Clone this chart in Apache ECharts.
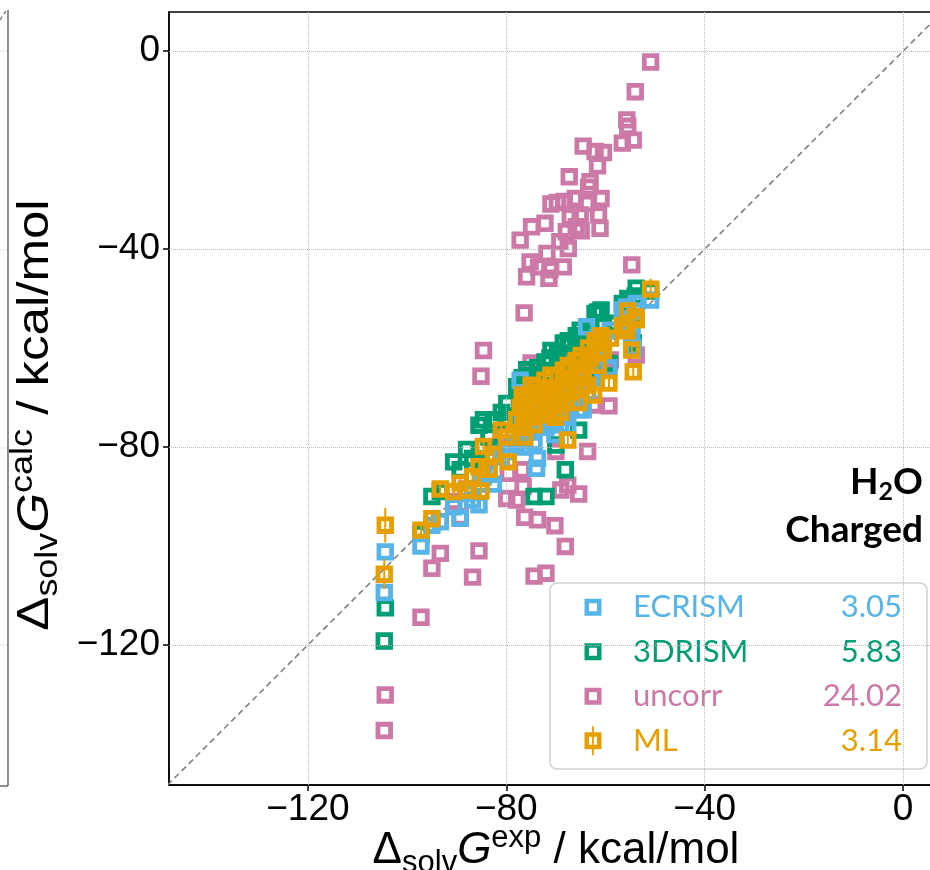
<!DOCTYPE html>
<html><head><meta charset="utf-8">
<script src="https://cdn.jsdelivr.net/npm/echarts@6/dist/echarts.min.js"></script>
<style>html,body{margin:0;padding:0;background:#fff}#c{width:930px;height:870px}</style>
</head><body><div id="c"></div>
<script>
// experimental solvation free energies (shared x for all methods)
const expG = [-104.6,-104.4,-97.2,-95.0,-93.3,-90.6,-89.3,-88.0,-86.8,-85.5,-85.1,-84.6,-83.5,-82.6,-81.0,-79.9,-79.6,-77.9,-77.2,-76.8,-76.6,-76.4,-76.3,-75.9,-75.2,-75.0,-74.9,-74.4,-73.9,-73.7,-73.5,-72.2,-72.0,-71.8,-71.4,-71.2,-71.0,-70.2,-70.0,-69.7,-69.2,-69.0,-68.5,-68.3,-68.1,-67.9,-67.6,-67.5,-67.3,-67.1,-66.1,-65.9,-65.4,-65.1,-64.9,-64.5,-63.8,-63.6,-63.4,-63.1,-62.4,-62.1,-61.6,-61.4,-61.1,-60.9,-60.4,-59.3,-59.0,-56.6,-55.7,-55.5,-54.7,-54.4,-54.0,-53.8,-50.9];
const mlCalc = [-105.7,-95.8,-96.8,-94.5,-88.5,-89.0,-87.3,-88.7,-86.0,-84.0,-88.9,-79.9,-84.5,-81.5,-76.6,-78.0,-83.0,-74.5,-72.0,-69.5,-76.0,-73.0,-78.0,-70.5,-74.0,-67.5,-71.5,-75.5,-68.0,-69.0,-72.5,-66.5,-73.5,-70.0,-72.0,-68.0,-65.5,-74.0,-69.5,-66.0,-70.5,-73.0,-64.5,-68.0,-71.0,-66.5,-78.6,-63.5,-69.0,-64.0,-67.5,-62.5,-71.0,-65.0,-61.5,-66.0,-63.0,-67.5,-60.0,-62.0,-69.5,-58.5,-61.0,-63.5,-59.0,-57.5,-60.5,-67.1,-58.0,-55.5,-56.5,-52.5,-60.4,-64.8,-53.7,-54.3,-48.1];
const mlErr = [3.0,3.5,1.0,1.0,1.0,1.0,1.0,1.0,1.0,1.0,1.0,1.0,1.0,1.0,1.0,1.0,1.0,1.0,1.0,1.0,1.0,1.0,1.0,1.0,1.0,1.0,1.0,1.0,1.0,1.0,1.0,1.0,1.0,1.0,1.0,1.0,1.0,1.0,1.0,1.0,1.0,1.0,1.0,1.0,1.0,1.0,1.0,1.0,1.0,1.0,1.0,1.0,1.0,1.0,1.0,1.0,1.0,1.0,1.0,1.0,1.0,1.0,1.0,1.0,1.0,1.0,1.0,1.0,1.0,1.0,1.0,1.0,1.0,1.0,1.0,1.0,2.1];
const ecrismCalc = [-109.4,-101.2,-100.0,-95.8,-95.1,-92.1,-94.4,-89.4,-90.7,-91.7,-87.5,-86.0,-85.5,-87.5,-82.0,-79.3,-80.9,-79.5,-66.5,-74.0,-78.0,-75.5,-80.0,-72.5,-77.0,-71.0,-73.0,-79.0,-84.3,-82.3,-74.5,-70.5,-76.0,-72.5,-75.0,-69.5,-68.0,-77.5,-73.0,-68.5,-72.0,-75.5,-67.5,-70.5,-74.0,-69.0,-76.0,-66.0,-71.5,-67.0,-70.0,-65.0,-72.5,-70.5,-64.0,-72.5,-55.7,-69.0,-63.0,-65.0,-66.0,-61.0,-63.5,-60.5,-62.0,-60.0,-58.0,-64.0,-56.4,-52.3,-51.7,-54.0,-57.0,-60.0,-52.5,-51.0,-50.3];
const drismCalc = [-119.2,-112.5,-97.5,-90.0,-89.0,-83.0,-84.6,-80.5,-82.3,-75.6,-83.0,-74.5,-78.0,-74.5,-73.0,-71.2,-74.5,-67.8,-69.0,-66.0,-71.5,-70.0,-72.5,-64.4,-68.5,-66.0,-65.5,-90.0,-66.0,-64.0,-67.0,-62.8,-90.0,-65.0,-68.0,-62.0,-60.5,-70.0,-79.6,-61.0,-65.5,-71.0,-59.0,-63.5,-84.6,-62.0,-72.5,-58.5,-64.0,-59.5,-62.5,-57.5,-76.6,-56.4,-58.0,-60.5,-59.0,-64.5,-56.0,-57.0,-63.0,-53.0,-52.7,-58.0,-55.0,-52.3,-55.5,-63.1,-55.0,-51.0,-52.5,-50.0,-56.0,-59.0,-49.5,-47.9,-48.5];
const uncorrCalc = [-137.3,-130.1,-114.4,-104.5,-101.5,-91.0,-94.1,-88.5,-106.3,-101.0,-65.7,-60.5,-82.5,-80.0,-77.5,-90.4,-85.3,-90.7,-38.2,-84.6,-88.0,-52.9,-94.2,-45.6,-42.6,-63.0,-35.5,-106.1,-70.0,-94.7,-43.6,-34.8,-105.5,-40.9,-45.9,-44.2,-30.9,-95.9,-80.9,-30.6,-38.5,-88.7,-43.6,-30.4,-100.1,-36.5,-87.7,-39.9,-25.4,-33.5,-29.8,-35.5,-89.5,-33.1,-36.3,-19.2,-30.8,-80.9,-27.5,-26.4,-71.5,-20.3,-23.2,-33.1,-35.8,-29.8,-20.5,-71.7,-62.4,-18.6,-13.9,-15.2,-43.2,-18.0,-8.2,-61.4,-2.2];
const methodNames = ['ECRISM','3DRISM','uncorr','ML'];
const rmseLabels = ['3.05','5.83','24.02','3.14'];
const xTicks = [-120,-80,-40,0];
const yTicks = [-120,-80,-40,0];
const X_MIN = -148.0, X_MAX = 7.9, Y_MIN = -148.3, Y_MAX = 7.9;

const COL = ['#56B4E9','#009E73','#CC79A7','#E69F00'];
const pairs = arr => expG.map((x,i)=>[x, arr[i]]);
const fmt = v => (v < 0 ? '\u2212' + Math.abs(v) : String(v));

const sqIcon = 'path://M8.5,0 h0.01 v0.01 h-0.01 Z M0,6 H17 V23 H0 Z M4.5,10.5 V18.5 H12.5 V10.5 Z M8.5,29 h0.01 v-0.01 h-0.01 Z';
const mlIcon = 'path://M7.6,0 H9.4 V29 H7.6 Z M0,6 H17 V23 H0 Z M4.5,10.5 V18.5 H12.5 V10.5 Z';

function scatter(name, arr, col, z) {
  return {
    name, type:'scatter', data: pairs(arr), symbol:'rect', symbolSize:12.6, z,
    itemStyle:{color:'rgba(255,255,255,0)', borderColor:col, borderWidth:4.8, opacity:1},
    emphasis:{disabled:true}, silent:true
  };
}

const rich = {s:{width:26.5}};
methodNames.forEach((n,i)=>{
  rich['n'+i] = {width:150, color:COL[i], fontFamily:'Lato', fontSize:31};
  rich['v'+i] = {width:119, align:'right', color:COL[i], fontFamily:'Lato', fontSize:31};
});

function titleRich(fs) {
  const sub = Math.round(fs*0.7);
  return {
    d:{fontFamily:'Liberation Sans', fontSize:fs, lineHeight:56, fill:'#000'},
    s:{fontFamily:'Liberation Sans', fontSize:sub, lineHeight:sub, verticalAlign:'bottom', fill:'#000'},
    g:{fontFamily:'Liberation Sans', fontSize:fs, lineHeight:56, fontStyle:'italic', fill:'#000'},
    p:{fontFamily:'Liberation Sans', fontSize:sub, lineHeight:36, verticalAlign:'top', fill:'#000'},
    t:{fontFamily:'Liberation Sans', fontSize:fs, lineHeight:56, fill:'#000'}
  };
}

const chart = echarts.init(document.getElementById('c'), null, {renderer:'canvas'});
chart.setOption({
  animation:false,
  backgroundColor:'#fff',
  grid:{left:169, top:12, width:(X_MAX-X_MIN)*4.96, height:773, show:true, borderColor:'#000', borderWidth:1.5,
    containLabel:false, outerBoundsMode:'none'},
  xAxis:{type:'value', min:X_MIN, max:X_MAX,
    axisLine:{show:true, onZero:false, lineStyle:{color:'#000', width:1.5}},
    axisTick:{show:true, customValues:xTicks, length:6, lineStyle:{color:'#000', width:1.5}},
    axisLabel:{customValues:xTicks, formatter:fmt, fontSize:37, fontFamily:'Liberation Sans', color:'#000', margin:6},
    splitLine:{show:false}},
  yAxis:{type:'value', min:Y_MIN, max:Y_MAX,
    axisLine:{show:true, onZero:false, lineStyle:{color:'#000', width:1.5}},
    axisTick:{show:true, customValues:yTicks, length:6, lineStyle:{color:'#000', width:1.5}},
    axisLabel:{customValues:yTicks, formatter:fmt, fontSize:37, fontFamily:'Liberation Sans', color:'#000', margin:9},
    splitLine:{show:false}},
  legend:{
    orient:'vertical', left:550, top:583, padding:[2,25,6,34.5],
    itemWidth:17, itemHeight:29, itemGap:0,
    backgroundColor:'rgba(255,255,255,0.85)', borderColor:'#cfcfcf', borderWidth:1.5, borderRadius:7,
    selectedMode:false,
    data: methodNames.map((n,i)=>({name:n, icon: i===3 ? mlIcon : sqIcon,
      itemStyle:{color:COL[i], borderWidth:0, borderColor:'rgba(0,0,0,0)'}})),
    formatter: name => { const i = methodNames.indexOf(name); return '{s|}{n'+i+'|'+name+'}{v'+i+'|'+rmseLabels[i]+'}'; },
    textStyle:{fontFamily:'Lato', fontSize:31, lineHeight:44.5, rich}
  },
  series:[
    {name:'diag', type:'line', data:[[Y_MIN,Y_MIN],[Y_MAX,Y_MAX]], symbol:'none', z:1, silent:true,
      lineStyle:{color:'#7f7f7f', width:1.6, type:[6,4]},
      markLine:{silent:true, symbol:'none', label:{show:false}, animation:false,
        lineStyle:{type:'dotted', color:'#b8b8b8', width:1},
        data:[...xTicks.map(v=>({xAxis:v})), ...yTicks.map(v=>({yAxis:v}))]}},
    scatter('uncorr', uncorrCalc, COL[2], 2),
    scatter('3DRISM', drismCalc, COL[1], 3),
    scatter('ECRISM', ecrismCalc, COL[0], 4),
    scatter('ML', mlCalc, COL[3], 5),
    {name:'MLerr', type:'custom', z:6, silent:true,
      data: expG.map((x,i)=>[x, mlCalc[i], mlErr[i]]),
      renderItem:(params, api)=>{
        const x = api.value(0), y = api.value(1), e = api.value(2);
        const p1 = api.coord([x, y-e]), p2 = api.coord([x, y+e]);
        return {type:'line', shape:{x1:p1[0], y1:p1[1], x2:p2[0], y2:p2[1]}, style:{stroke:COL[3], lineWidth:2}};
      }}
  ],
  graphic:[
    // edge of neighbouring panel
    {type:'line', shape:{x1:8, y1:10, x2:8, y2:786}, style:{stroke:'#444', lineWidth:1.2}},
    {type:'line', shape:{x1:0, y1:786, x2:8, y2:786}, style:{stroke:'#444', lineWidth:1.2}},
    {type:'line', shape:{x1:0, y1:51, x2:8, y2:51}, style:{stroke:'#bbb', lineWidth:1, lineDash:[1,2]}},
    {type:'line', shape:{x1:0, y1:250, x2:8, y2:250}, style:{stroke:'#bbb', lineWidth:1, lineDash:[1,2]}},
    {type:'line', shape:{x1:0, y1:448, x2:8, y2:448}, style:{stroke:'#bbb', lineWidth:1, lineDash:[1,2]}},
    {type:'line', shape:{x1:0, y1:645, x2:8, y2:645}, style:{stroke:'#bbb', lineWidth:1, lineDash:[1,2]}},
    {type:'line', shape:{x1:0, y1:20, x2:6, y2:11}, style:{stroke:'#7f7f7f', lineWidth:1.4, lineDash:[4,3]}},
    // axis titles
    {type:'text', x:556, y:823, z:10, style:{
      text:'{d|\u0394}{s|solv}{g|G}{p|exp}{t| / kcal/mol}', align:'center', verticalAlign:'top',
      rich:titleRich(44)}},
    {type:'text', x:8, y:415, rotation:Math.PI/2, scaleX:1.16, z:10, style:{
      text:'{d|\u0394}{s|solv}{g|G}{p|calc}{t| / kcal/mol}', align:'center', verticalAlign:'top',
      rich:titleRich(44)}},
    // annotation
    {type:'text', x:923, y:464, z:10, style:{
      text:'{a|H}{b|2}{a|O}', align:'right', verticalAlign:'top',
      rich:{
        a:{fontFamily:'Lato', fontWeight:'bold', fontSize:37, lineHeight:40, verticalAlign:'top', fill:'#000'},
        b:{fontFamily:'Lato', fontWeight:'bold', fontSize:25, lineHeight:24, verticalAlign:'bottom', fill:'#000'}
      }, lineHeight:46}},
    {type:'text', x:923, y:512, z:10, style:{
      text:'Charged', align:'right', verticalAlign:'top',
      fontFamily:'Lato', fontWeight:'bold', fontSize:37, fill:'#000'}}
  ]
});
</script></body></html>
